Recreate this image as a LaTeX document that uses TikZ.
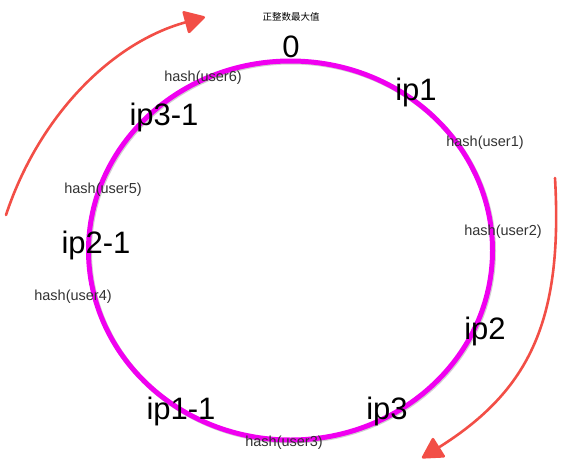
\documentclass[tikz,border=0pt]{standalone}
\usepackage{fontspec}
\setmainfont{Liberation Sans}
\newfontfamily\cjkfont{Noto Sans CJK SC}
\usetikzlibrary{arrows.meta}
\definecolor{ringcol}{RGB}{240,0,240}
\definecolor{crayon}{RGB}{242,78,70}
\definecolor{hashtext}{RGB}{50,50,50}
\begin{document}
\begin{tikzpicture}[x=1pt,y=-1pt,
  bigtag/.style={font=\fontsize{31}{31}\selectfont, text=black, inner sep=0pt},
  hashtag/.style={font=\fontsize{14.5}{15}\selectfont, text=hashtext, inner sep=0pt},
  flowarrow/.style={draw=crayon, line width=2.6pt, line cap=round,
    -{Triangle[length=22pt,width=24pt,round]}}]
\useasboundingbox (0,0) rectangle (577,464);

% the hash ring with a faint shadow
\draw[black!18, line width=5pt] (291.5,251.5) ellipse [x radius=202, y radius=189.5];
\draw[ringcol, line width=5pt] (290.5,250.5) ellipse [x radius=202, y radius=189.5];

% top of the ring
\node (maxval) at (291,17) {\cjkfont\fontsize{9.5}{10}\selectfont 正整数最大值};
\node[bigtag] (zero) at (291,47) {0};

% server nodes
\node[bigtag] (ipone) at (416,92) {ip1};
\node[bigtag] (iptwo) at (485,331) {ip2};
\node[bigtag] (ipthree) at (387,411) {ip3};
\node[bigtag] (iponeb) at (181,411) {ip1-1};
\node[bigtag] (iptwob) at (96,245) {ip2-1};
\node[bigtag] (ipthreeb) at (164,117) {ip3-1};

% keys
\node[hashtag] (uone) at (485,143) {hash(user1)};
\node[hashtag] (utwo) at (503,232) {hash(user2)};
\node[hashtag] (uthree) at (284,443) {hash(user3)};
\node[hashtag] (ufour) at (73,297) {hash(user4)};
\node[hashtag] (ufive) at (103,190) {hash(user5)};
\node[hashtag] (usix) at (203,78) {hash(user6)};

% clockwise direction marks
\coordinate (lstart) at (6,215);
\coordinate (lend) at (205,17);
\coordinate (rstart) at (555,178);
\coordinate (rend) at (422,458);
\draw[flowarrow] (lstart) .. controls (38,118) and (110,43) .. (lend);
\draw[flowarrow] (rstart) .. controls (563,320) and (530,390) .. (rend);
\end{tikzpicture}
\end{document}
